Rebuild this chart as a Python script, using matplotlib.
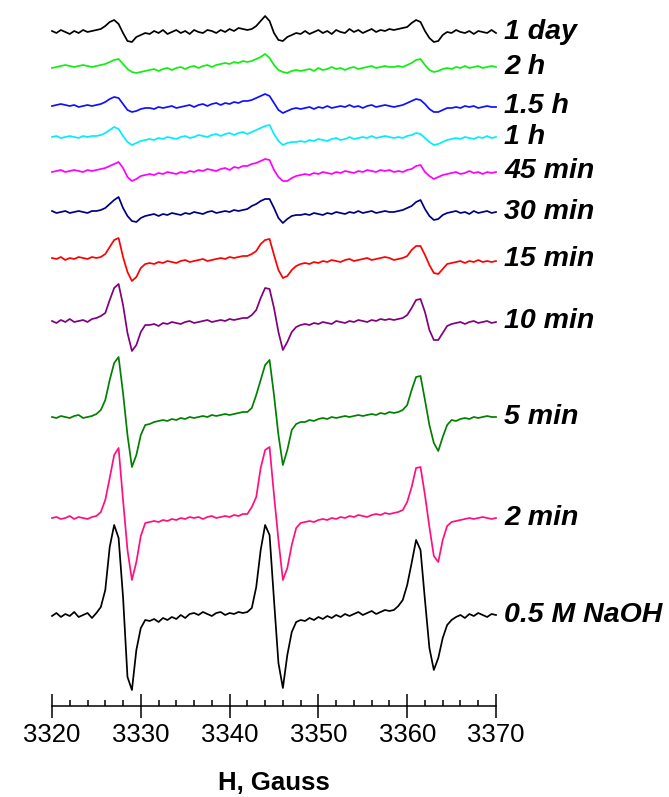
import numpy as np
import matplotlib
matplotlib.use("Agg")
import matplotlib.pyplot as plt
from matplotlib.ticker import MultipleLocator

plt.rcParams['font.family'] = ['Liberation Sans', 'DejaVu Sans']

# magnetic field sweep, 0.5 G steps
field = np.arange(3320, 3370.5, 0.5)

# signals (pixels above each trace's baseline)
day1 = [1, -1, 2, 0, -2, 1, -1, 2, 0, 1,
        2, 3, 6, 10, 12, 8, -1, -9, -10, -5, -3, -1,
        -2, 1, -1, 2, -2, 0, 2, -1, 1, -2, 2, 0, -1, 2, 1, -1, 2, 0, 3, 1, 4, 3,
        2, 3, 6, 11, 16, 11, -1, -8, -9, -5, -3, -1, -2,
        1, -2, 0, 2, -1, 1, -2, 2, 0, -1, 3, 0, 2, -1, 1, 3, 0, 2, 1, 3,
        2, 3, 4, 5, 9, 12, 10, 1, -6, -10, -9, -3, 0, -1,
        2, 0, -1, 1, -2, 1, 0, -1, 2, -1]
h2 = [-1, 0, 1, 2, 1, 0, 1, 2, 1, 0,
      1, 2, 3, 5, 7, 8, 3, -2, -5, -6, -5, -4,
      -3, -2, -4, -2, -1, -3, -1, 0, -2, 0, 1, -1, 1, 2, 0, 2, 3, 4, 3, 5, 4, 6,
      5, 6, 8, 10, 13, 9, 2, -3, -5, -6, -4, -3, -4,
      -3, -2, -4, -1, -3, -2, 0, -2, -1, -3, -1, 0, -2, -1, 0, 1, -1, 0, 1, 0,
      0, 1, 0, 2, 4, 7, 8, 2, -3, -5, -4, -2, -1, -2,
      0, -1, 1, -1, 0, 1, -1, 0, 1, 0]
h1_5 = [0, 1, 2, 1, 0, 1, -1, 0, 1, 0,
        1, 2, 4, 7, 9, 8, 2, -4, -6, -5, -3, -2,
        -2, -3, -1, -2, -1, 0, -2, -1, 0, 1, -1, 1, 2, 0, 2, 3, 1, 3, 2, 4, 3, 5,
        5, 6, 8, 10, 12, 10, 3, -4, -7, -5, -3, -2, -3,
        -2, -1, -3, -1, -2, 0, -2, -1, 0, -1, 1, -1, 0, -2, 0, 1, -1, 0, 1, 0,
        -1, 0, 1, 3, 5, 7, 6, 2, -3, -6, -6, -4, -2, -2,
        -1, -2, 0, -1, 0, -2, -1, 0, -1, -1]
h1 = [0, 1, -1, 0, 1, 0, -1, 1, 0, 1,
      1, 2, 4, 7, 10, 8, 1, -5, -8, -6, -4, -3,
      -2, -3, -1, -2, 0, -1, -2, 0, 1, -1, 0, 2, 1, 0, 2, 3, 1, 3, 4, 2, 4, 5,
      3, 5, 7, 9, 11, 12, 3, -4, -8, -6, -5, -5, -4,
      -5, -3, -4, -2, -3, -4, -2, -1, -3, -2, 0, -2, -1, 0, -1, 1, -1, 0, 1, 0,
      -1, 0, -1, 1, 2, 4, 3, -1, -5, -8, -7, -5, -3, -2,
      -1, -2, 0, -1, -2, 0, -1, 1, -1, 0]
min45 = [-1, 0, 1, -1, 0, 1, 0, -1, 1, 0,
         1, 2, 3, 5, 7, 9, 3, -6, -10, -8, -5, -4,
         -3, -4, -2, -3, -1, -2, -3, -1, -2, 0, -1, 1, 0, 2, 1, 0, 2, 3, 1, 4, 3, 5,
         5, 7, 8, 10, 12, 11, 1, -6, -10, -10, -7, -5, -4,
         -3, -4, -2, -3, -1, -2, -3, -1, -2, 0, -1, -2, 0, -1, 1, 0, -1, 1, 0, 1,
         -1, 0, -1, 1, 2, 5, 6, -1, -5, -8, -6, -4, -3, -2,
         -1, -3, -2, 0, -2, -1, -3, -1, -2, -1]
min30 = [1, -1, 0, 1, -1, 0, 1, 0, -1, 1,
         1, 2, 4, 8, 12, 15, 4, -4, -9, -10, -6, -4,
         -3, -2, -4, -2, -3, -1, -2, -3, -1, -2, 0, -1, -2, 0, 1, -1, 0, 1, 0, 2, 1, 2,
         3, 6, 8, 11, 13, 13, 4, -6, -11, -7, -4, -3, -3,
         -2, -3, -1, -2, -3, -1, -2, 0, -1, -2, 0, -1, 1, -1, 0, 1, -1, 0, 1, 0,
         0, 1, 2, 4, 6, 10, 12, 3, -4, -8, -7, -3, -1, 0,
         1, -1, 0, -2, 1, -1, 0, 1, -1, 0]
min15 = [1, 0, 2, -1, 1, 0, 2, 1, 0, 2,
         1, 2, 5, 12, 19, 21, 2, -13, -22, -18, -9, -5,
         -4, -5, -3, -4, -2, -3, -4, -2, -1, -3, -2, -1, 0, -2, -1, 0, 1, 0, 2, 1, 2, 3,
         3, 5, 8, 15, 19, 20, 4, -11, -19, -17, -11, -7, -5,
         -4, -5, -3, -4, -2, -3, -1, -2, -3, -1, 0, -2, -1, 0, 1, -1, 0, 1, 2, 1,
         -1, 0, 1, 3, 9, 13, 13, 4, -6, -14, -15, -10, -5, -4,
         -3, -2, -4, -2, -3, -1, -3, -2, -3, -2]
min10 = [0, -2, 1, -1, 2, -1, 0, 1, -1, 2,
         3, 5, 8, 21, 33, 37, 16, -12, -30, -24, -11, -4,
         -4, -3, -5, -2, -3, -1, -2, -3, -1, 0, -2, -1, 0, 1, -1, 0, 1, 0, 2, 1, 2, 3,
         3, 6, 11, 23, 33, 32, 13, -11, -29, -21, -11, -6, -4,
         -3, -4, -2, -3, -1, -2, -3, 0, -1, -2, 0, -1, 1, 0, -1, 1, 0, 2, 1, 2,
         1, 2, 3, 6, 13, 21, 22, 9, -9, -19, -19, -12, -5, -3,
         -2, -1, -3, -1, 0, -2, -1, 0, -2, -1]
min5 = [0, -1, 1, 0, -1, 1, 2, -1, 0, 1,
        3, 7, 17, 37, 54, 60, 24, -18, -50, -38, -18, -8,
        -7, -5, -4, -3, -4, -2, -3, -1, -2, 0, -1, 0, 1, 0, 2, 1, 2, 3, 2, 3, 4, 5,
        5, 9, 22, 37, 52, 57, 22, -18, -48, -33, -13, -7, -5,
        -5, -3, -4, -2, -1, -2, 0, -1, 0, 1, 0, 1, 2, 1, 2, 3, 2, 4, 3, 5,
        4, 5, 7, 12, 27, 40, 41, 17, -8, -26, -34, -20, -8, -3,
        -4, -2, -1, -2, 0, -1, 0, 1, 0, 0]
min2 = [0, 1, -1, 0, 2, -1, 1, 0, -1, 1,
        2, 6, 18, 40, 63, 70, 18, -32, -62, -44, -18, -5,
        -4, -3, -4, -2, -3, -1, -2, 0, -1, 1, 0, 1, -1, 1, 2, 0, 1, 2, 1, 3, 2, 4,
        4, 11, 21, 50, 68, 71, 23, -22, -62, -50, -27, -10, -5,
        -4, -3, -4, -2, -1, -2, 0, -1, 1, 0, 2, 1, 3, 2, 1, 3, 4, 3, 5, 4,
        5, 6, 8, 16, 31, 50, 51, 23, -9, -38, -44, -22, -8, -4,
        -3, -2, -1, 0, -1, 0, 1, 0, -1, 0]
naoh = [-1, 2, -2, 1, -1, 3, -2, 0, 2, -3,
        2, 8, 25, 68, 90, 77, 18, -62, -75, -35, -13, -5,
        -6, -4, -7, -3, -5, -2, -4, 0, -3, 1,
        2, 0, 3, 1, -1, 2, 3, 0, 2, 1, 3, 2,
        3, 7, 28, 65, 90, 80, 15, -48, -73, -40, -17, -7, -5,
        -6, -3, -5, -2, -4, -1, -3, 0, -2, 1, -1,
        1, 3, 0, 2, 4, 1, 3, 5, 4,
        5, 9, 15, 30, 52, 75, 65, 15, -33, -55, -43, -23, -10, -5,
        -2, 0, -3, 1, -1, 2, 0, -2, 1, 0]

labels = ['1 day', '2 h', '1.5 h', '1 h', '45 min', '30 min',
          '15 min', '10 min', '5 min', '2 min', '0.5 M NaOH']
offsets = [674, 639, 600, 569, 535, 494, 447, 385, 289, 188, 91]
colors = ['black', '#11ee11', '#1010ff', '#00eeff', '#ff00ff', '#000080',
          '#ff0000', '#800080', '#008000', '#ff0f7f', 'black']
traces = [day1, h2, h1_5, h1, min45, min30, min15, min10, min5, min2, naoh]

fig = plt.figure(figsize=(6.69, 7.97), dpi=100)
ax = fig.add_axes([52 / 669, 91 / 797, 444 / 669, 706 / 797])

for sig, off, col, lab in zip(traces, offsets, colors, labels):
    ax.plot(field, off + np.array(sig), color=col, lw=1.25, clip_on=False,
            solid_joinstyle='round')
    ax.text(3370.9, off, lab, fontsize=20.5, fontweight='bold', style='italic',
            va='center', ha='left')

ax.set_xlim(3320, 3370)
ax.set_ylim(0, 706)
for s in ['left', 'right', 'top']:
    ax.spines[s].set_visible(False)
ax.spines['bottom'].set_linewidth(1.1)
ax.set_yticks([])
ax.set_xticks(np.arange(3320, 3371, 10))
ax.xaxis.set_minor_locator(MultipleLocator(2))
ax.tick_params(axis='x', which='major', direction='inout', length=17,
               width=1.1, labelsize=18.5, pad=3.5)
ax.tick_params(axis='x', which='minor', direction='in', length=4.5, width=1.1)

fig.text(274 / 669, 1 - 783 / 797, 'H, Gauss', fontsize=18.5,
         fontweight='bold', ha='center', va='center')

fig.savefig('out.png', dpi=100)
